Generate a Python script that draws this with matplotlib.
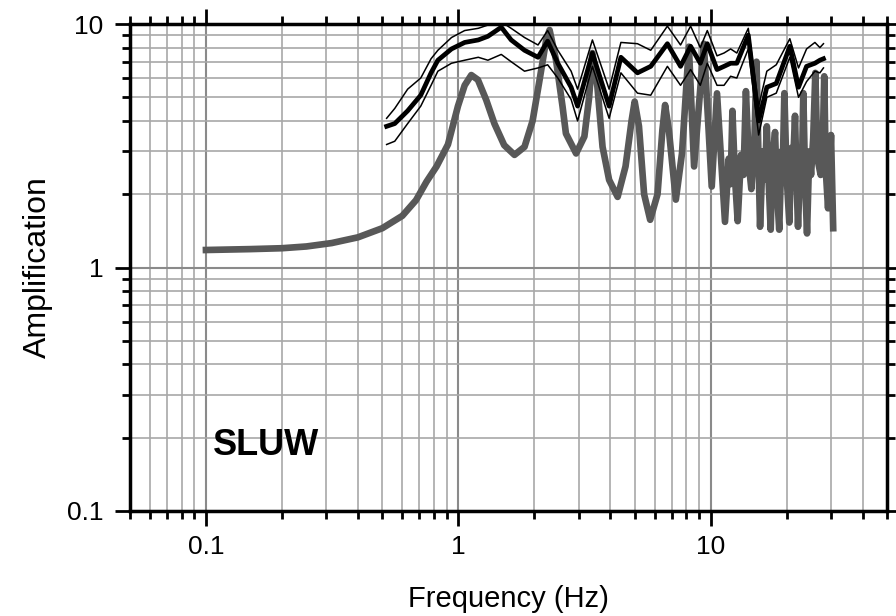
#!/usr/bin/env python
# -*- coding: utf-8 -*-
"""Plots theoretical vs observed site amplification for station SLUW."""

import matplotlib
matplotlib.use('Agg')
import matplotlib.pyplot as plt
from matplotlib.ticker import LogLocator, NullFormatter, FixedFormatter, FixedLocator


STATION = 'SLUW'

# Theoretical 1D amplification (gray curve).
freq_theory = [0.1, 0.15, 0.2, 0.25, 0.315, 0.4, 0.5, 0.6, 0.68, 0.748,
               0.82, 0.91, 0.997, 1.06, 1.126, 1.196, 1.29, 1.39, 1.52, 1.67,
               1.83, 1.97, 2.1, 2.23, 2.3, 2.44, 2.59, 2.67, 2.93, 3.16,
               3.3, 3.4, 3.56, 3.73, 3.96, 4.28, 4.6, 4.86, 5.0, 5.2,
               5.45, 5.76, 6.16, 6.44, 6.6, 6.83, 7.28, 7.7, 8.2, 8.6,
               9.4, 10.1, 10.6, 11.4, 11.8, 12.0, 12.2, 12.5, 12.8, 13.2,
               13.5, 13.8, 14.2, 14.5, 14.9, 15.2, 15.5, 15.7, 16.1, 16.4,
               16.7, 17.0, 17.3, 17.6, 18.0, 18.3, 18.7, 19.1, 19.3, 19.6,
               20.0, 20.5, 20.9, 21.2, 21.6, 21.9, 22.2, 22.7, 23.0, 23.3,
               23.7, 24.1, 24.6, 25.0, 25.5, 26.0, 26.5, 27.3, 27.8, 28.2,
               28.6, 29.2, 30.0, 30.6]
amp_theory = [1.18, 1.19, 1.2, 1.22, 1.26, 1.33, 1.45, 1.63, 1.89, 2.25,
              2.6, 3.2, 4.6, 5.6, 6.17, 5.9, 4.88, 3.9, 3.18, 2.9,
              3.13, 4.0, 5.9, 8.6, 9.45, 7.1, 4.57, 3.55, 2.94, 3.45,
              5.0, 7.6, 5.5, 3.13, 2.29, 1.95, 2.6, 4.0, 4.8, 3.8,
              2.0, 1.57, 2.0, 3.67, 4.65, 3.67, 1.9, 2.94, 8.07, 2.6,
              8.3, 2.15, 5.19, 1.54, 2.8, 2.2, 4.4, 2.3, 1.55, 2.9,
              2.4, 5.3, 2.6, 2.1, 3.2, 7.0, 2.6, 1.47, 3.0, 2.3,
              3.8, 2.2, 1.43, 2.8, 3.6, 2.1, 1.43, 3.0, 2.5, 5.2,
              2.4, 1.53, 3.1, 2.6, 4.2, 2.3, 1.47, 2.9, 2.5, 5.2,
              2.2, 1.38, 3.0, 2.4, 3.4, 6.3, 2.8, 2.4, 3.1, 6.1,
              2.5, 1.75, 3.5, 1.45]

# Observed amplification: mean and +/- one standard deviation (black curves).
freq_obs = [0.52, 0.56, 0.63, 0.71, 0.78, 0.83, 0.94, 1.06, 1.2, 1.31,
            1.48, 1.62, 1.83, 2.07, 2.26, 2.48, 2.8, 2.97, 3.4, 3.96,
            4.41, 5.13, 5.79, 6.74, 7.6, 8.33, 9.1, 9.7, 10.6, 11.3,
            12.0, 12.7, 14.1, 15.5, 16.7, 18.2, 20.6, 22.3, 24.0, 25.9,
            27.1, 28.0]
amp_mean = [3.8, 3.9, 4.4, 5.1, 6.3, 7.1, 7.9, 8.4, 8.6, 8.9,
            9.7, 8.6, 7.8, 7.3, 8.5, 6.9, 5.5, 4.6, 7.6, 4.6,
            7.3, 6.3, 6.7, 8.3, 6.7, 8.1, 6.9, 8.3, 6.5, 6.7,
            6.9, 6.9, 9.0, 4.0, 5.5, 5.7, 8.1, 5.5, 6.7, 6.9,
            7.1, 7.2]
amp_upper = [4.1, 4.5, 5.4, 6.0, 7.2, 7.8, 8.8, 9.4, 9.6, 9.9,
             10.2, 9.6, 8.8, 8.2, 9.4, 7.8, 6.4, 5.4, 8.6, 5.4,
             8.4, 8.3, 7.8, 9.8, 8.2, 9.8, 8.0, 9.4, 7.4, 7.6,
             7.9, 7.6, 9.6, 4.6, 6.4, 6.8, 8.7, 6.6, 7.9, 8.4,
             8.0, 8.3]
amp_lower = [3.2, 3.3, 3.9, 4.6, 5.6, 6.4, 6.9, 7.1, 7.3, 7.1,
             7.5, 7.0, 6.4, 6.6, 6.8, 6.0, 4.9, 4.0, 6.7, 4.1,
             6.3, 5.2, 5.1, 6.7, 5.6, 6.5, 5.6, 6.9, 5.6, 5.6,
             6.1, 6.0, 7.9, 3.5, 5.0, 5.2, 7.3, 5.0, 5.8, 6.4,
             6.3, 6.6]

x_ticks = [0.1, 1, 10]
x_ticklabels = ['0.1', '1', '10']
y_ticks = [0.1, 1, 10]
y_ticklabels = ['0.1', '1', '10']


def plot_amplification(path):
  """Draws the amplification curves and saves them to `path`."""

  matplotlib.rc('font', **{'size': 19, 'family': 'sans-serif',
                           'sans-serif': ['Liberation Sans', 'DejaVu Sans']})

  fig = plt.figure(figsize=(8.96, 6.16), dpi=100)
  ax = fig.add_axes([130/896., 1 - 511/616., 757/896., 487/616.])

  # Axes scales.
  ax.set_xscale('log')
  ax.set_yscale('log')
  ax.set_xlim(0.05, 50)
  ax.set_ylim(0.1, 10)

  # Ticks on all four sides, pointing outward.
  ax.xaxis.set_major_locator(FixedLocator(x_ticks))
  ax.xaxis.set_major_formatter(FixedFormatter(x_ticklabels))
  ax.yaxis.set_major_locator(FixedLocator(y_ticks))
  ax.yaxis.set_major_formatter(FixedFormatter(y_ticklabels))
  for axis in (ax.xaxis, ax.yaxis):
    axis.set_minor_locator(LogLocator(base=10, subs=range(2, 10), numticks=20))
    axis.set_minor_formatter(NullFormatter())
  ax.tick_params(which='both', direction='out', top=True, right=True,
                 width=2, color='black')
  ax.tick_params(which='major', length=11)
  ax.tick_params(which='minor', length=6)
  ax.tick_params(axis='x', which='major', pad=6)
  ax.tick_params(axis='y', which='major', pad=8)
  for spine in ax.spines.values():
    spine.set_linewidth(2.5)
    spine.set_zorder(20)

  # Grid lines.
  ax.grid(True, which='minor', color='#a8a8a8', lw=1.2)
  ax.grid(True, which='major', color='#8a8a8a', lw=1.5)
  ax.set_axisbelow(True)

  # Curves.
  ax.plot(freq_theory, amp_theory, color='#585858', lw=4.8,
          solid_joinstyle='round', zorder=5)
  ax.plot(freq_obs, amp_upper, color='black', lw=1.1, zorder=6)
  ax.plot(freq_obs, amp_lower, color='black', lw=1.1, zorder=6)
  ax.plot(freq_obs, amp_mean, color='black', lw=3.4, zorder=7)

  # Labels.
  ax.set_xlabel('Frequency (Hz)', fontsize=21, labelpad=19)
  ax.set_ylabel('Amplification', fontsize=23, labelpad=10)
  ax.text(0.11, 0.115, STATION, transform=ax.transAxes, fontsize=26,
          fontweight='bold', va='baseline', ha='left', zorder=10)

  fig.savefig(path, dpi=100)
  plt.close(fig)


def main():
  plot_amplification('out.png')


if __name__ == '__main__':
  main()
